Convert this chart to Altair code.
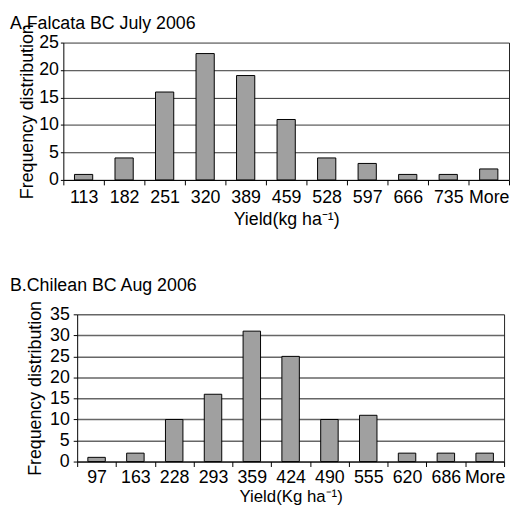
import altair as alt
import pandas as pd

cats_a = ["113", "182", "251", "320", "389", "459", "528", "597", "666", "735", "More"]
freq_a = [1, 4, 16, 23, 19, 11, 4, 3, 1, 1, 2]
cats_b = ["97", "163", "228", "293", "359", "424", "490", "555", "620", "686", "More"]
freq_b = [1, 2, 10, 16, 31, 25, 10, 11, 2, 2, 2]

title_a = "A.Falcata BC July 2006"
title_b = "B.Chilean BC Aug 2006"
xtitle_a = "Yield(kg ha\u207b\u00b9)"
xtitle_b = "Yield(Kg ha\u207b\u00b9)"
ytitle = "Frequency distribution"

FONT = "Liberation Sans"


def panel(cats, freq, title, xtitle, w, h, ymax, xrange, yoffset, dx, toffset,
          ytick, ylab_pad, ytitle_pad, xtick, xlab_pad, xtitle_pad,
          xtitle_size, grid_color, grid_width):
    df = pd.DataFrame({"bin": cats, "freq": freq})
    base = alt.Chart(df)
    xenc = alt.X("bin:N", sort=cats,
                 scale=alt.Scale(paddingInner=0, paddingOuter=0, range=xrange),
                 axis=alt.Axis(title=xtitle, labelAngle=0, tickBand="extent",
                               tickSize=xtick, labelPadding=xlab_pad,
                               titlePadding=xtitle_pad, titleFontSize=xtitle_size,
                               labelOverlap=False, grid=False))
    bars = base.mark_bar(
        width=alt.RelativeBandSize(0.45), fill="#a0a0a0", stroke="black", strokeWidth=1
    ).encode(
        x=xenc,
        y=alt.Y("freq:Q", scale=alt.Scale(domain=[0, ymax], nice=False),
                axis=alt.Axis(title=ytitle, values=list(range(0, ymax + 1, 5)),
                              tickSize=ytick, labelPadding=ylab_pad,
                              titlePadding=ytitle_pad, grid=True, offset=yoffset,
                              gridColor=grid_color, gridWidth=grid_width,
                              gridOpacity=1)),
    )
    border = base.mark_bar(opacity=0).encode(
        x=xenc,
        y=alt.Y("freq:Q", scale=alt.Scale(domain=[0, ymax], nice=False),
                axis=alt.Axis(orient="right", labels=False, ticks=False,
                              domain=True, grid=False, title="",
                              domainColor="#222222")),
    )
    return alt.layer(bars, border).resolve_scale(y="independent").properties(
        width=w, height=h,
        title=alt.TitleParams(title, anchor="start", frame="group", dx=dx,
                              offset=toffset, fontSize=18, font=FONT,
                              fontWeight="normal", color="black"),
    )


a = panel(cats_a, freq_a, title_a, xtitle_a, 451, 139, 25, [0, 451], 0, -54, -9,
          3, 2, 2, 5, 4, 4, 18, "#333333", 1)
b = panel(cats_b, freq_b, title_b, xtitle_b, 446, 149, 35, [14, 446], -14, -54, 6,
          4, 4, 5, 5, 2, 2, 17, "#666666", 1.5)

chart = alt.vconcat(a, b, spacing=48).properties(
    padding={"left": 2, "top": 3, "right": 0, "bottom": 0}
).configure_view(stroke=None).configure_axis(
    labelFont=FONT, titleFont=FONT, labelFontSize=18, titleFontSize=18,
    labelColor="black", titleColor="black", titleFontWeight="normal",
    domainColor="black", tickColor="black"
)

chart.save("out.html", embed_options={"renderer": "svg", "actions": False})
